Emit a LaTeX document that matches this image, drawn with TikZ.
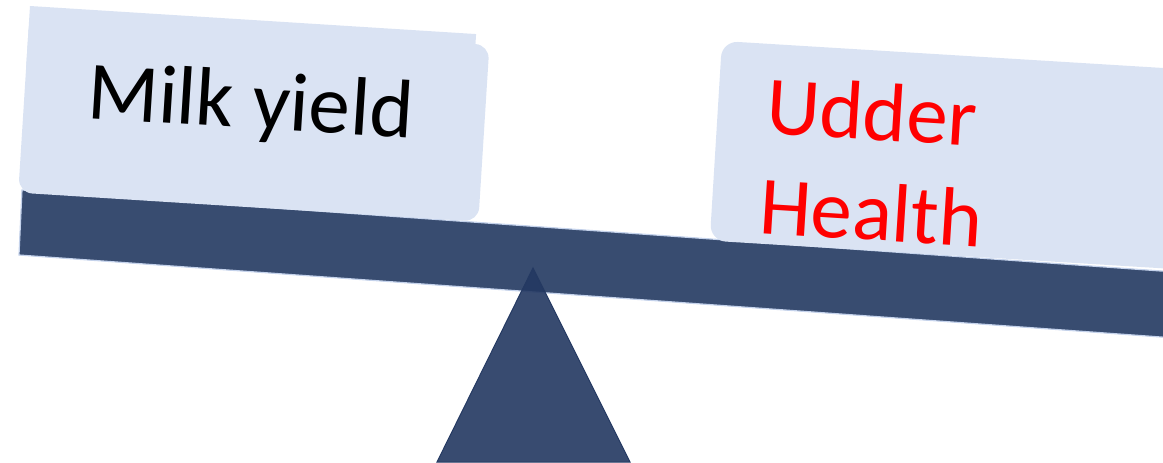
\documentclass[tikz,border=0pt]{standalone}
\usepackage{fontspec}
\setmainfont{Carlito}

\definecolor{beamblue}{RGB}{56,76,112}
\definecolor{pivotblue}{RGB}{36,57,98}
\definecolor{panelblue}{RGB}{218,227,243}
\definecolor{rimblue}{RGB}{196,210,235}

\tikzset{
  panel/.style={fill=panelblue},
  bigtext/.style={inner sep=0pt, anchor=base west, font=\fontsize{83}{100}\selectfont}
}

\begin{document}
\begin{tikzpicture}[x=1pt,y=-1pt]
\useasboundingbox (0,0) rectangle (1163,463);
\clip (0,0) rectangle (1163,463);

% beam and pivot
\filldraw[fill=beamblue, draw=rimblue, line width=1.2pt] (22,190) -- (1175,272) -- (1175,338) -- (19,255) -- cycle;
\filldraw[fill=pivotblue, fill opacity=0.91, draw=pivotblue, line width=1pt] (533,268) -- (630,462) -- (437,462) -- cycle;

% left panel
\begin{scope}[shift={(30,6)}, rotate=-3.6]
\fill[panel] (0,0) rectangle (447,60);
\fill[panel, rounded corners=14pt] (0,10) rectangle (461,187);
\end{scope}

% right panel
\begin{scope}[shift={(722,41)}, rotate=-3.5]
\fill[panel, rounded corners=16pt] (0,0) rectangle (520,200);
\end{scope}

\node[bigtext, rotate=-3.6] (milk) at (86,118) {Milk yield};
\node[bigtext, rotate=-3.6, text=red] (udder) at (765,133) {Udder};
\node[bigtext, rotate=-3.6, text=red] (health) at (758,233) {Health};
\end{tikzpicture}
\end{document}
